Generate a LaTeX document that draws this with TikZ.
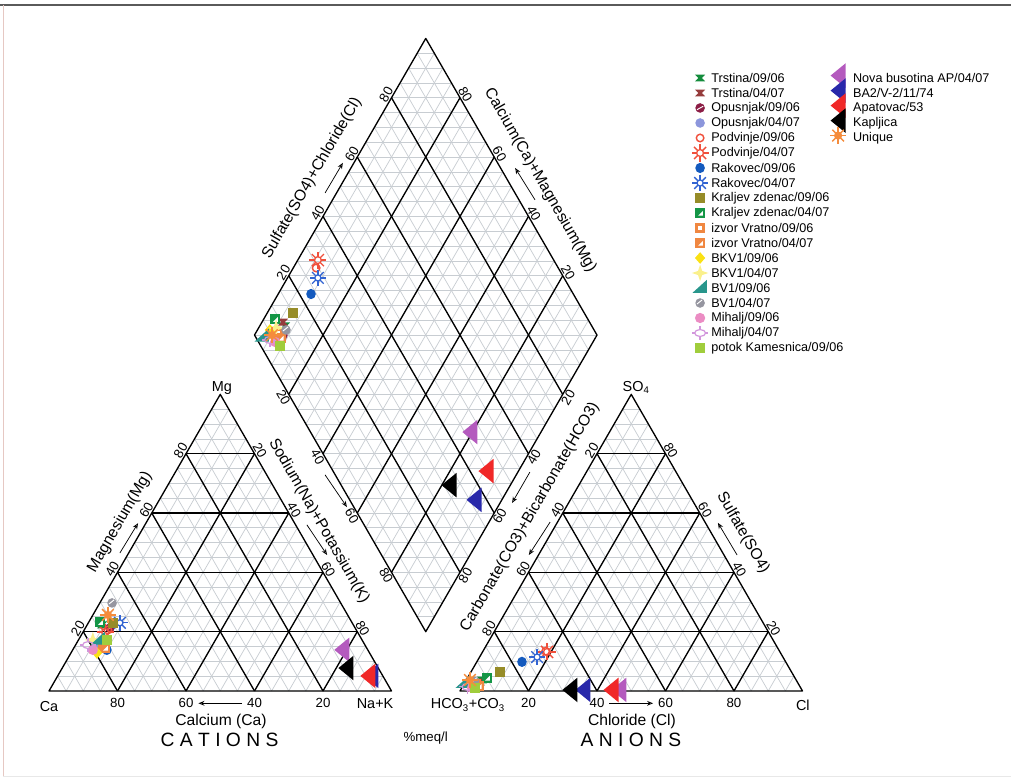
\documentclass[tikz,border=0pt]{standalone}
\usepackage{fontspec}
\setmainfont{Liberation Sans}
\usepackage{tkz-euclide}
\usetikzlibrary{arrows.meta, calc}

\definecolor{gridc}{RGB}{200,205,210}
\definecolor{frametop}{RGB}{90,90,90}
\definecolor{frameleft}{RGB}{230,200,195}
\definecolor{framebot}{RGB}{232,232,232}
\definecolor{cTrsA}{RGB}{20,140,60}
\definecolor{cTrsB}{RGB}{150,60,60}
\definecolor{cOpuA}{RGB}{140,30,70}
\definecolor{cOpuB}{RGB}{140,150,220}
\definecolor{cPod}{RGB}{240,80,60}
\definecolor{cRakA}{RGB}{20,90,190}
\definecolor{cRakB}{RGB}{50,100,210}
\definecolor{cKraA}{RGB}{150,140,40}
\definecolor{cKraB}{RGB}{20,150,70}
\definecolor{cVra}{RGB}{240,135,65}
\definecolor{cBkvA}{RGB}{250,225,20}
\definecolor{cBkvB}{RGB}{250,240,140}
\definecolor{cBvA}{RGB}{40,150,140}
\definecolor{cBvB}{RGB}{150,150,160}
\definecolor{cMihA}{RGB}{235,140,195}
\definecolor{cMihB}{RGB}{210,150,220}
\definecolor{cPotA}{RGB}{160,205,60}
\definecolor{cNova}{RGB}{180,90,190}
\definecolor{cBA}{RGB}{40,40,170}
\definecolor{cApa}{RGB}{240,40,40}
\definecolor{cUniq}{RGB}{245,140,60}

\tikzset{
  gridthin/.style = {line width=0.6pt, draw=gridc},
  gridthick/.style = {line width=1.1pt, draw=black},
  tick/.style = {font=\fontsize{11}{12}\selectfont, inner sep=1pt},
  axlab/.style = {font=\fontsize{13}{14}\selectfont, inner sep=0pt},
  vlab/.style = {font=\fontsize{12}{13}\selectfont, inner sep=0pt},
  axarrow/.style = {line width=0.6pt, -{Stealth[open, length=5pt, width=4pt]}},
  legtext/.style = {font=\fontsize{10.5}{12}\selectfont, anchor=west, inner sep=0pt},
  trsA/.pic = {\fill[cTrsA] (-0.15,0.1)--(0.15,0.1)--(0.05,0)--(0.15,-0.1)--(-0.15,-0.1)--(-0.05,0)--cycle;},
  trsB/.pic = {\fill[cTrsB] (-0.15,0.1)--(0.15,0.1)--(0.05,0)--(0.15,-0.1)--(-0.15,-0.1)--(-0.05,0)--cycle;},
  opuA/.pic = {\fill[cOpuA] (0,0) circle (0.14); \draw[white, line width=0.8pt] (-0.09,-0.05)--(0.09,0.05);},
  opuB/.pic = {\fill[cOpuB] (0,0) circle (0.14);},
  podA/.pic = {\draw[cPod, line width=1.2pt] (0,0) circle (0.11);},
  podB/.pic = {\draw[cPod, line width=1.1pt] (0,0) circle (0.1);
    \foreach \a in {0,45,...,315} \draw[cPod, line width=1.1pt] (\a:0.1)--(\a:0.25);},
  rakA/.pic = {\fill[cRakA] (0,0) ellipse (0.14 and 0.15);},
  rakB/.pic = {\draw[cRakB, line width=1.1pt] (0,0) circle (0.09);
    \foreach \a in {0,45,...,315} \draw[cRakB, line width=1.1pt] (\a:0.09)--(\a:0.24);},
  kraA/.pic = {\fill[cKraA] (-0.14,-0.14) rectangle (0.14,0.14);},
  kraB/.pic = {\fill[cKraB] (-0.14,-0.14) rectangle (0.14,0.14);
    \fill[white] (-0.06,-0.08)--(0.08,-0.08)--(0.08,0.06)--cycle;},
  vraA/.pic = {\fill[cVra] (-0.14,-0.14) rectangle (0.14,0.14);
    \fill[white] (-0.05,-0.05) rectangle (0.05,0.05);},
  vraB/.pic = {\fill[cVra] (-0.14,-0.14) rectangle (0.14,0.14);
    \fill[white] (-0.06,-0.08)--(0.08,-0.08)--(0.08,0.06)--cycle;},
  bkvA/.pic = {\fill[cBkvA] (0,0.17)--(0.15,0)--(0,-0.17)--(-0.15,0)--cycle;},
  bkvB/.pic = {\fill[cBkvB] (0,0.24)--(0.06,0.06)--(0.24,0)--(0.06,-0.06)--(0,-0.24)--(-0.06,-0.06)--(-0.24,0)--(-0.06,0.06)--cycle;},
  bvA/.pic = {\fill[cBvA] (-0.22,-0.14)--(0.2,-0.14)--(0.2,0.24)--cycle;},
  bvB/.pic = {\fill[cBvB] (0,0) circle (0.14); \draw[white, line width=0.8pt] (-0.09,-0.03)--(0.06,0.09);},
  mihA/.pic = {\fill[cMihA] (0,0) circle (0.15);},
  mihB/.pic = {\draw[cMihB, line width=1pt] (0,0) ellipse (0.16 and 0.1);
    \draw[cMihB, line width=1pt] (0,0.1)--(0,0.2) (0,-0.1)--(0,-0.2) (-0.16,0)--(-0.24,0) (0.16,0)--(0.24,0);},
  potA/.pic = {\fill[cPotA] (-0.15,-0.15) rectangle (0.15,0.15);},
  nova/.pic = {\fill[cNova] (0.22,0.36)--(0.22,-0.36)--(-0.22,0)--cycle;},
  ba/.pic = {\fill[cBA] (0.22,0.36)--(0.22,-0.36)--(-0.22,0)--cycle;},
  apa/.pic = {\fill[cApa] (0.22,0.36)--(0.22,-0.36)--(-0.22,0)--cycle;},
  kap/.pic = {\fill[black] (0.22,0.36)--(0.22,-0.36)--(-0.22,0)--cycle;},
  uniq/.pic = {\fill[cUniq] (0,0) circle (0.12);
    \foreach \a in {0,45,...,315} \draw[cUniq, line width=1.2pt] (0,0)--(\a:0.24);}
}

\begin{document}
\begin{tikzpicture}
\useasboundingbox (-1.431,-2.599) rectangle (28.088,20.175);
% frame
\draw[frametop, line width=1.2pt] (-1.431,20.03) -- (28.088,20.03);
\draw[frameleft, line width=0.8pt] (-1.33,20.03) -- (-1.33,-2.51);
\draw[framebot, line width=0.8pt] (-1.33,-2.51) -- (28.088,-2.51);

\tkzDefPoints{0/0/A, 10/0/B, 5/8.660/C, 12/0/D, 22/0/E, 17/8.660/F}
\tkzDefPoints{11/1.732/Q, 6/10.392/L, 11/19.053/T, 16/10.392/R}

% fine grid, 5 %
\foreach \p/\q/\r in {A/B/C, D/E/F} {
  \foreach \k in {1,...,19} {
    \pgfmathsetmacro\f{\k/20}
    \draw[gridthin] ($(\p)!\f!(\r)$) -- ($(\q)!\f!(\r)$);
    \draw[gridthin] ($(\p)!\f!(\q)$) -- ($(\r)!\f!(\q)$);
    \draw[gridthin] ($(\q)!\f!(\p)$) -- ($(\r)!\f!(\p)$);
  }
}
\foreach \k in {1,...,19} {
  \pgfmathsetmacro\f{\k/20}
  \draw[gridthin] ($(Q)!\f!(L)$) -- ($(R)!\f!(T)$);
  \draw[gridthin] ($(Q)!\f!(R)$) -- ($(L)!\f!(T)$);
}
\begin{scope}
  \clip (Q) -- (L) -- (T) -- (R) -- cycle;
  \foreach \j in {1,...,39}
    \draw[gridthin] (6,{1.732+\j*0.433}) -- (16,{1.732+\j*0.433});
\end{scope}

% main grid, 20 %
\foreach \p/\q/\r in {A/B/C, D/E/F} {
  \foreach \f in {0.2,0.4,0.6,0.8} {
    \draw[gridthick] ($(\p)!\f!(\r)$) -- ($(\q)!\f!(\r)$);
    \draw[gridthick] ($(\p)!\f!(\q)$) -- ($(\r)!\f!(\q)$);
    \draw[gridthick] ($(\q)!\f!(\p)$) -- ($(\r)!\f!(\p)$);
  }
}
\foreach \f in {0.2,0.4,0.6,0.8} {
  \draw[gridthick] ($(Q)!\f!(L)$) -- ($(R)!\f!(T)$);
  \draw[gridthick] ($(Q)!\f!(R)$) -- ($(L)!\f!(T)$);
}
\tkzDrawPolygon[gridthick](A,B,C)
\tkzDrawPolygon[gridthick](D,E,F)
\tkzDrawPolygon[gridthick](Q,L,T,R)

% corner labels
\node[vlab] (lCa) at (0,-0.44) {Ca};
\node[vlab] (lMg) at (5.05,8.85) {Mg};
\node[vlab] (lNa) at (9.52,-0.38) {Na+K};
\node[vlab] (lHC) at (12.23,-0.41) {HCO\textsubscript{3}+CO\textsubscript{3}};
\node[vlab] (lSO) at (17.14,8.86) {SO\textsubscript{4}};
\node[vlab] (lCl) at (22.01,-0.41) {Cl};

% scale values
\foreach \x/\v in {2/80,4/60,6/40,8/20}
  \node[tick] (cb\v) at (\x,-0.36) {\v};
\foreach \x/\v in {14/20,16/40,18/60,20/80}
  \node[tick] (ab\v) at (\x,-0.36) {\v};
\foreach \f/\v in {0.2/20,0.4/40,0.6/60,0.8/80} {
  \node[tick, rotate=60, anchor=south] (ma\v) at ($(A)!\f!(C)$) {\v};
  \node[tick, rotate=-60, anchor=south] (na\v) at ($(C)!\f!(B)$) {\v};
  \node[tick, rotate=60, anchor=south] (hc\v) at ($(F)!\f!(D)$) {\v};
  \node[tick, rotate=-60, anchor=north] (dn\v) at ($(L)!\f!(Q)$) {\v};
  \node[tick, rotate=60, anchor=north] (dc\v) at ($(R)!\f!(Q)$) {\v};
  \node[tick, rotate=60, anchor=south] (ds\v) at ($(L)!\f!(T)$) {\v};
}
\foreach \f/\v in {0.2/80,0.4/60,0.6/40,0.8/20} {
  \node[tick, rotate=-60, anchor=south] (so\v) at ($(F)!\f!(E)$) {\v};
  \node[tick, rotate=-60, anchor=south] (dm\v) at ($(T)!\f!(R)$) {\v};
}

% axis names
\node[axlab] (tCa) at (5.02,-0.88) {Calcium (Ca)};
\node[axlab] (tCl) at (17.02,-0.88) {Chloride (Cl)};
\node[font=\fontsize{16}{18}\selectfont, inner sep=0pt] (tCat) at (4.98,-1.43) {C A T I O N S};
\node[font=\fontsize{16}{18}\selectfont, inner sep=0pt] (tAn) at (16.99,-1.43) {A N I O N S};
\node[font=\fontsize{11}{12}\selectfont, inner sep=0pt] (tmeq) at (11.0,-1.37) {\%meq/l};
\node[axlab, rotate=60] (tMg) at (2.07,4.93) {Magnesium(Mg)};
\node[axlab, rotate=-60] (tNa) at (7.88,4.96) {Sodium(Na)+Potassium(K)};
\node[axlab, rotate=60] (tHC) at (14.04,5.08) {Carbonate(CO3)+Bicarbonate(HCO3)};
\node[axlab, rotate=-60] (tSO) at (20.26,4.61) {Sulfate(SO4)};
\node[axlab, rotate=60] (tSC) at (7.68,14.98) {Sulfate(SO4)+Chloride(Cl)};
\node[axlab, rotate=-60] (tCM) at (14.34,14.92) {Calcium(Ca)+Magnesium(Mg)};

\draw[axarrow, shorten <=3pt, shorten >=3pt] (cb40) -- (cb60);
\draw[axarrow, shorten <=3pt, shorten >=3pt] (ab40) -- (ab60);
\draw[axarrow] (2.07,4.03) -- (2.60,4.90);
\draw[axarrow] (7.53,4.85) -- (8.12,3.97);
\draw[axarrow] (8.06,6.31) -- (8.70,5.37);
\draw[axarrow] (14.04,6.39) -- (13.52,5.49);
\draw[axarrow] (14.63,4.93) -- (14.01,3.97);
\draw[axarrow] (20.09,3.97) -- (19.53,4.91);
\draw[axarrow] (8.06,14.54) -- (8.58,15.42);
\draw[axarrow] (14.19,14.34) -- (13.61,15.27);

% samples, cations
\foreach \m/\x/\y in {trsA/1.55/1.93, trsB/1.61/1.49, opuA/1.78/1.84, opuB/1.49/1.34,
    podA/1.72/1.78, podB/1.64/1.72, rakA/1.69/1.20, rakB/2.07/1.99, kraA/1.87/1.99,
    kraB/1.49/2.01, vraA/1.58/1.34, vraB/1.64/1.26, bkvA/1.40/1.11, bkvB/1.28/1.49,
    bvA/1.43/1.49, bvB/1.84/2.57, mihA/1.28/1.20, mihB/1.14/1.34, potA/1.69/1.49,
    nova/8.55/1.20, ba/9.40/0.44, apa/9.31/0.44, kap/8.67/0.67, uniq/1.72/2.22}
  \pic at (\x,\y) {\m};
% samples, anions
\foreach \m/\x/\y in {trsA/12.64/0.32, trsB/12.58/0.26, opuA/12.52/0.20, opuB/12.40/0.18,
    podA/14.50/1.16, podB/14.54/1.14, rakA/13.81/0.85, rakB/14.25/0.99, kraA/13.17/0.55,
    kraB/12.79/0.38, vraA/12.47/0.20, vraB/12.55/0.14, bkvA/12.29/0.15, bkvB/12.35/0.22,
    bvA/12.09/0.23, bvB/12.42/0.28, mihA/12.35/0.09, mihB/12.22/0.12, potA/12.44/0.09,
    nova/16.64/0.03, ba/15.59/0.03, apa/16.41/0.03, kap/15.21/0.03, uniq/12.29/0.32}
  \pic at (\x,\y) {\m};
% samples, diamond
\foreach \m/\x/\y in {trsA/6.89/10.66, trsB/6.83/10.77, opuA/6.83/10.39, opuB/6.72/10.34,
    podA/7.80/12.35, podB/7.85/12.58, rakA/7.65/11.59, rakB/7.85/12.06, kraA/7.12/11.04,
    kraB/6.60/10.86, vraA/6.69/10.45, vraB/6.77/10.31, bkvA/6.45/10.54, bkvB/6.63/10.60,
    bvA/6.22/10.34, bvB/6.92/10.54, mihA/6.60/10.19, mihB/6.45/10.25, potA/6.74/10.07,
    nova/12.29/7.56, ba/12.41/5.58, apa/12.76/6.42, kap/11.68/6.01, uniq/6.51/10.39}
  \pic at (\x,\y) {\m};

% legend
\foreach \m/\t [count=\i from 0] in {trsA/{Trstina/09/06}, trsB/{Trstina/04/07},
    opuA/{Opusnjak/09/06}, opuB/{Opusnjak/04/07}, podA/{Podvinje/09/06},
    podB/{Podvinje/04/07}, rakA/{Rakovec/09/06}, rakB/{Rakovec/04/07},
    kraA/{Kraljev zdenac/09/06}, kraB/{Kraljev zdenac/04/07}, vraA/{izvor Vratno/09/06},
    vraB/{izvor Vratno/04/07}, bkvA/{BKV1/09/06}, bkvB/{BKV1/04/07}, bvA/{BV1/09/06},
    bvB/{BV1/04/07}, mihA/{Mihalj/09/06}, mihB/{Mihalj/04/07}, potA/{potok Kamesnica/09/06}} {
  \pic at (19.01,{17.898-0.438*\i}) {\m};
  \node[legtext] (lg\i) at (19.33,{17.898-0.438*\i}) {\t};
}
\foreach \m/\t [count=\i from 0] in {nova/{Nova busotina AP/04/07}, ba/{BA2/V-2/11/74},
    apa/{Apatovac/53}, kap/{Kapljica}, uniq/{Unique}} {
  \pic at (23.04,{17.968-0.438*\i}) {\m};
  \node[legtext] (lh\i) at (23.47,{17.898-0.438*\i}) {\t};
}
\end{tikzpicture}
\end{document}
